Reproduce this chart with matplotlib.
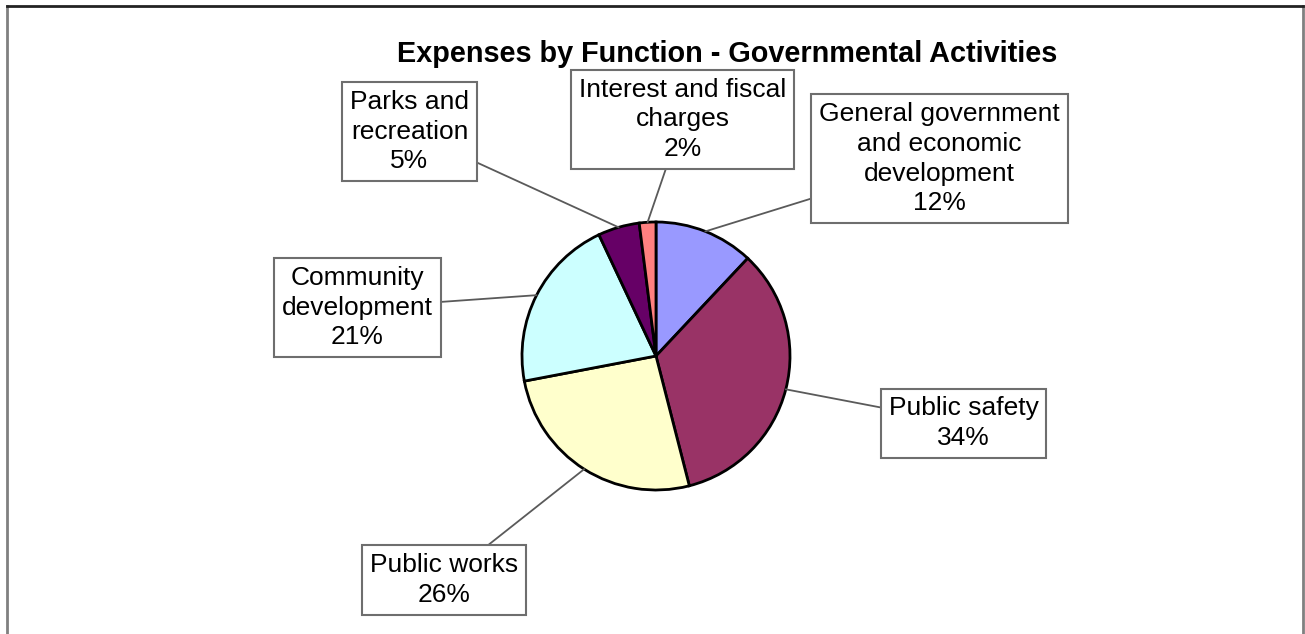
import matplotlib.pyplot as plt
import numpy as np

plt.rcParams['font.family'] = ['Liberation Sans', 'DejaVu Sans']

# expenses by function, percent of total
categories = ['General government\nand economic\ndevelopment', 'Public safety', 'Public works',
              'Community\ndevelopment', 'Parks and\nrecreation', 'Interest and fiscal\ncharges']
shares = [12, 34, 26, 21, 5, 2]
colors = ['#9999FF', '#993366', '#FFFFCC', '#CCFFFF', '#660066', '#FF8080']

# label box centres in pixels, measured from the top-left corner
box_pos = [(939.7, 158.7), (963.5, 423.3), (444, 580), (357.5, 307.8), (409.5, 131.7), (682.8, 119.3)]

W, H = 1305, 634
fig = plt.figure(figsize=(W / 100, H / 100), dpi=100)
ax = fig.add_axes([0, 0, 1, 1])

cx, cy, r = 656, H - 356, 134
wedges, _ = ax.pie(shares, colors=colors, startangle=90, counterclock=False,
                   center=(cx, cy), radius=r,
                   wedgeprops=dict(edgecolor='black', linewidth=2))
ax.set_xlim(0, W)
ax.set_ylim(0, H)
ax.set_aspect('equal')
ax.axis('off')

ax.text(727, H - 62, 'Expenses by Function - Governmental Activities',
        ha='center', va='baseline', fontsize=20.8, fontweight='bold')

for w, name, share, (bx, by) in zip(wedges, categories, shares, box_pos):
    ang = np.deg2rad((w.theta1 + w.theta2) / 2)
    px, py = cx + r * np.cos(ang), cy + r * np.sin(ang)
    ax.annotate(f'{name}\n{share}%', xy=(px, py), xytext=(bx, H - by),
                ha='center', va='center', multialignment='center', fontsize=19,
                linespacing=1.3,
                bbox=dict(boxstyle='square,pad=0.3', fc='white', ec='#6e6e6e', lw=1.5),
                arrowprops=dict(arrowstyle='-', color='#5a5a5a', lw=1.3,
                                shrinkA=0, shrinkB=0))

# chart area border (bottom edge falls outside the image)
ax.plot([7, 7], [0, H - 6], color='#808080', lw=2, clip_on=False)
ax.plot([1303, 1303], [0, H - 6], color='#808080', lw=2, clip_on=False)
ax.plot([7, 1303], [H - 6, H - 6], color='#222222', lw=2, clip_on=False)

fig.savefig('out.png', dpi=100)
